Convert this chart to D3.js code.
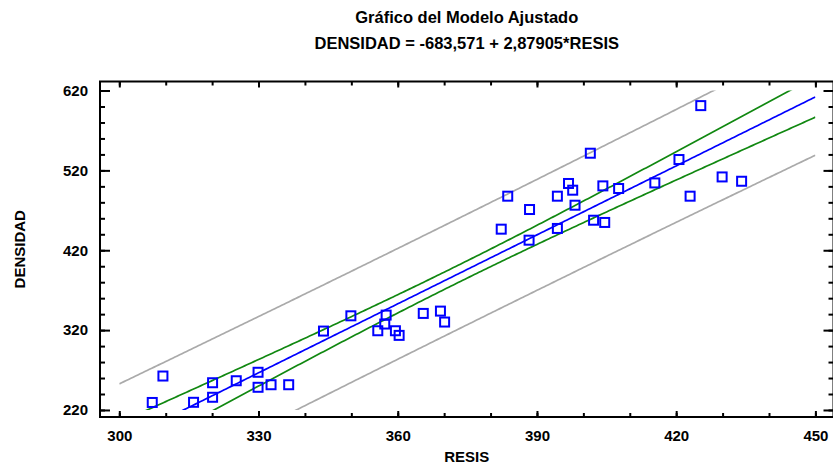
<!DOCTYPE html>
<html>
<head>
<meta charset="utf-8">
<script src="https://cdn.jsdelivr.net/npm/d3@7"></script>
<style>
  body { margin: 0; background: #fff; }
  svg { display: block; }
  text { font-family: "Liberation Sans", Arial, sans-serif; font-weight: bold; fill: #000; }
</style>
</head>
<body>
<svg id="chart" width="833" height="467"></svg>
<script>
// Observations: RESIS (x) and DENSIDAD (y)
const resis = [
  307.1, 309.4, 316.0, 320.1, 320.1, 325.2, 329.9, 329.9, 332.7, 336.5,
  344.0, 349.9, 357.5, 357.2, 355.7, 359.5, 360.3, 365.5, 369.2, 370.1,
  383.7, 388.4, 382.3, 388.3, 394.4, 396.8, 397.7, 398.2, 394.4, 404.2,
  407.6, 402.2, 404.6, 425.3, 420.6, 415.4, 429.9, 434.1, 423.0, 401.5
];
const densidad = [
  229.4, 262.5, 229.6, 254.1, 235.9, 256.6, 267.2, 248.4, 251.6, 251.6,
  318.8, 337.9, 338.8, 327.6, 319.2, 319.2, 313.4, 340.9, 343.8, 330.1,
  487.7, 471.0, 446.4, 432.6, 487.7, 503.6, 495.2, 476.4, 447.3, 500.6,
  497.3, 457.6, 454.8, 601.1, 533.6, 504.3, 511.8, 506.4, 487.7, 541.5
];

// Fitted model coefficients
const intercept = -683.571;
const slope = 2.87905;
const tCrit = 2.024;   // Student t, 95%, n-2 = 38 df

const titleLines = ["Gráfico del Modelo Ajustado", "DENSIDAD = -683,571 + 2,87905*RESIS"];
const xLabel = "RESIS";
const yLabel = "DENSIDAD";

const xMajorTicks = [300, 330, 360, 390, 420, 450];
const xMinorTicks = [300, 310, 320, 330, 340, 350, 360, 370, 380, 390, 400, 410, 420, 430, 440, 450];
const yMajorTicks = [220, 320, 420, 520, 620];
const yMinorTicks = d3.range(220, 621, 20);
const xAxisExtent = [295.84, 453.9];
const yAxisExtent = [211.2, 631.3];
const curveExtentX = [300, 450];
const curveExtentY = [220, 620];

const svg = d3.select("#chart");
const plot = { left: 100, right: 833.5, top: 81.5, bottom: 417 };

const x = d3.scaleLinear().domain(xAxisExtent).range([plot.left, plot.right]);
const y = d3.scaleLinear().domain(yAxisExtent).range([plot.bottom, plot.top]);

// Regression statistics for the confidence and prediction limits
const n = resis.length;
const xMean = d3.mean(resis);
const sxx = d3.sum(resis, v => (v - xMean) ** 2);
const sse = d3.sum(resis, (v, i) => (densidad[i] - (intercept + slope * v)) ** 2);
const se = Math.sqrt(sse / (n - 2));
const fit = v => intercept + slope * v;
const confHalf = v => tCrit * se * Math.sqrt(1 / n + (v - xMean) ** 2 / sxx);
const predHalf = v => tCrit * se * Math.sqrt(1 + 1 / n + (v - xMean) ** 2 / sxx);

// Clip the curves to the limits of the scales
svg.append("defs").append("clipPath").attr("id", "curveClip")
  .append("rect")
  .attr("x", x(curveExtentX[0])).attr("y", y(curveExtentY[1]))
  .attr("width", x(curveExtentX[1]) - x(curveExtentX[0]))
  .attr("height", y(curveExtentY[0]) - y(curveExtentY[1]));

const xs = d3.range(curveExtentX[0], curveExtentX[1] + 0.001, 0.5);
const line = d3.line().x(d => x(d[0])).y(d => y(d[1]));
const curves = [
  { f: v => fit(v) + predHalf(v), color: "#aaaaaa" },
  { f: v => fit(v) - predHalf(v), color: "#aaaaaa" },
  { f: v => fit(v) + confHalf(v), color: "#118811" },
  { f: v => fit(v) - confHalf(v), color: "#118811" },
  { f: fit, color: "#0000ff" }
];
const gCurves = svg.append("g").attr("clip-path", "url(#curveClip)");
curves.forEach(c => {
  gCurves.append("path")
    .attr("d", line(xs.map(v => [v, c.f(v)])))
    .attr("fill", "none")
    .attr("stroke", c.color)
    .attr("stroke-width", 1.7);
});

// Observed points
svg.append("g").selectAll("rect")
  .data(resis.map((v, i) => [v, densidad[i]]))
  .join("rect")
  .attr("x", d => x(d[0]) - 4.5)
  .attr("y", d => y(d[1]) - 4.5)
  .attr("width", 9).attr("height", 9)
  .attr("fill", "none")
  .attr("stroke", "#0000ff")
  .attr("stroke-width", 2);

// Axes: ticks on all four sides, pointing inward
function styleAxis(g) {
  g.select(".domain").remove();
  g.selectAll(".tick line").attr("stroke", "#000").attr("stroke-width", 2);
  g.selectAll("text").attr("font-size", 15).attr("font-family", null).attr("fill", "#000");
}
svg.append("g").attr("transform", `translate(0,${plot.bottom})`)
  .call(d3.axisBottom(x).tickValues(xMajorTicks).tickSize(-6).tickPadding(13).tickFormat(d3.format("d")))
  .call(styleAxis);
svg.append("g").attr("transform", `translate(0,${plot.bottom})`)
  .call(d3.axisBottom(x).tickValues(xMinorTicks).tickSize(-4).tickFormat(""))
  .call(styleAxis);
svg.append("g").attr("transform", `translate(0,${plot.top})`)
  .call(d3.axisTop(x).tickValues(xMajorTicks).tickSize(-6).tickFormat(""))
  .call(styleAxis);
svg.append("g").attr("transform", `translate(0,${plot.top})`)
  .call(d3.axisTop(x).tickValues(xMinorTicks).tickSize(-4).tickFormat(""))
  .call(styleAxis);
svg.append("g").attr("transform", `translate(${plot.left},0)`)
  .call(d3.axisLeft(y).tickValues(yMajorTicks).tickSize(-10).tickPadding(12).tickFormat(d3.format("d")))
  .call(styleAxis);
svg.append("g").attr("transform", `translate(${plot.left},0)`)
  .call(d3.axisLeft(y).tickValues(yMinorTicks).tickSize(-5).tickFormat(""))
  .call(styleAxis);
svg.append("g").attr("transform", `translate(${plot.right},0)`)
  .call(d3.axisRight(y).tickValues(yMajorTicks).tickSize(-10).tickFormat(""))
  .call(styleAxis);
svg.append("g").attr("transform", `translate(${plot.right},0)`)
  .call(d3.axisRight(y).tickValues(yMinorTicks).tickSize(-5).tickFormat(""))
  .call(styleAxis);

// Frame
svg.append("rect")
  .attr("x", plot.left).attr("y", plot.top)
  .attr("width", plot.right - plot.left).attr("height", plot.bottom - plot.top)
  .attr("fill", "none").attr("stroke", "#000").attr("stroke-width", 2);

// Titles
const cx = (plot.left + plot.right) / 2;
svg.append("text").attr("x", cx).attr("y", 23).attr("text-anchor", "middle")
  .attr("font-size", 16.5).text(titleLines[0]);
svg.append("text").attr("x", cx).attr("y", 49).attr("text-anchor", "middle")
  .attr("font-size", 16.5).text(titleLines[1]);
svg.append("text").attr("x", cx).attr("y", 462).attr("text-anchor", "middle")
  .attr("font-size", 15).text(xLabel);
svg.append("text")
  .attr("transform", `translate(25,${(plot.top + plot.bottom) / 2}) rotate(-90)`)
  .attr("text-anchor", "middle").attr("font-size", 15).text(yLabel);
</script>
</body>
</html>
